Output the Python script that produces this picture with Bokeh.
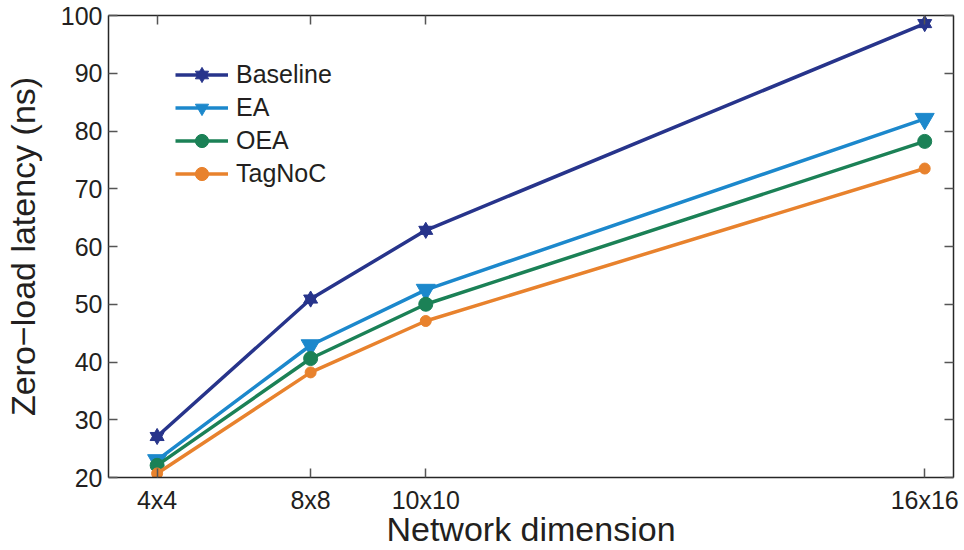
from bokeh.plotting import figure
from bokeh.models import Range1d, FixedTicker, LinearAxis, Legend, LegendItem
from bokeh.embed import file_html
from bokeh.resources import INLINE

# ---- data ----
nodes = [16, 64, 100, 256]
tick_labels = ["4x4", "8x8", "10x10", "16x16"]
y_ticks = [20, 30, 40, 50, 60, 70, 80, 90, 100]
baseline = [27.1, 50.9, 62.8, 98.6]
ea = [23.0, 42.9, 52.5, 82.1]
oea = [22.1, 40.6, 50.0, 78.2]
tagnoc = [20.7, 38.2, 47.1, 73.5]

C_BASE = "#27348b"
C_EA = "#1c88cc"
C_OEA = "#1b8156"
C_TAG = "#e8822d"
AX = "#262626"
FONT = "Liberation Sans"

p = figure(width=962, height=550, output_backend="svg",
           toolbar_location=None, x_range=Range1d(0.8, 265), y_range=Range1d(20, 100),
           min_border_left=103, min_border_top=15, min_border_right=9, min_border_bottom=71,
           background_fill_color="white", border_fill_color="white")
p.xgrid.visible = False
p.ygrid.visible = False
p.outline_line_color = None

def style_axis(ax, labels=True):
    ax.axis_line_color = AX
    ax.axis_line_width = 1.5
    ax.major_tick_line_color = "#555555"
    ax.major_tick_line_width = 1.5
    ax.major_tick_in = 9
    ax.major_tick_out = 0
    ax.minor_tick_line_color = None
    ax.major_label_text_font = FONT
    ax.major_label_text_color = "#231f20"
    ax.axis_label_text_font = FONT
    ax.axis_label_text_color = "#231f20"
    ax.axis_label_text_font_style = "normal"
    if labels:
        ax.major_label_text_font_size = "25px"
        ax.axis_label_text_font_size = "34px"
    else:
        ax.major_label_text_font_size = "0px"
        ax.major_label_standoff = 0

xt = FixedTicker(ticks=nodes)
yt = FixedTicker(ticks=y_ticks)

p.xaxis.ticker = xt
p.xaxis.major_label_overrides = {n: l for n, l in zip(nodes, tick_labels)}
p.xaxis.axis_label = "Network dimension"
style_axis(p.xaxis[0])
p.xaxis.major_label_standoff = 8
p.xaxis.axis_label_standoff = -7

p.yaxis.ticker = yt
p.yaxis.axis_label = "Zero\u2212load latency (ns)"
style_axis(p.yaxis[0])
p.yaxis.major_label_standoff = 6
p.yaxis.axis_label_standoff = 16

top = LinearAxis(ticker=xt)
style_axis(top, labels=False)
top.major_label_overrides = {n: "" for n in nodes}
p.add_layout(top, "above")
right = LinearAxis(ticker=yt)
style_axis(right, labels=False)
right.major_label_overrides = {t: "" for t in y_ticks}
p.add_layout(right, "right")

LW = 3.5
# Baseline (hexagram = triangle + inverted triangle)
l1 = p.line(nodes, baseline, line_color=C_BASE, line_width=LW)
m1a = p.scatter(nodes, baseline, marker="triangle", size=14, fill_color=C_BASE, line_color=C_BASE)
m1b = p.scatter(nodes, baseline, marker="inverted_triangle", size=14, fill_color=C_BASE, line_color=C_BASE)
# EA
l2 = p.line(nodes, ea, line_color=C_EA, line_width=LW)
m2 = p.scatter(nodes, ea, marker="inverted_triangle", size=19, fill_color=C_EA, line_color=C_EA)
# OEA
l3 = p.line(nodes, oea, line_color=C_OEA, line_width=LW)
m3 = p.scatter(nodes, oea, marker="circle", size=14, fill_color=C_OEA, line_color=C_OEA)
# TagNoC
l4 = p.line(nodes, tagnoc, line_color=C_TAG, line_width=LW)
m4 = p.scatter(nodes, tagnoc, marker="circle", size=11, fill_color=C_TAG, line_color=C_TAG)

legend = Legend(items=[
    LegendItem(label="Baseline", renderers=[l1, m1a, m1b]),
    LegendItem(label="EA", renderers=[l2, m2]),
    LegendItem(label="OEA", renderers=[l3, m3]),
    LegendItem(label="TagNoC", renderers=[l4, m4]),
], location=(67, 287), padding=0, margin=0, spacing=0,
    glyph_width=53, glyph_height=33, label_height=33, label_standoff=8,
    label_text_font=FONT, label_text_font_size="25px", label_text_color="#231f20",
    border_line_color=None, background_fill_alpha=0)
p.add_layout(legend, "center")

open("out.html", "w").write(file_html(p, INLINE))
